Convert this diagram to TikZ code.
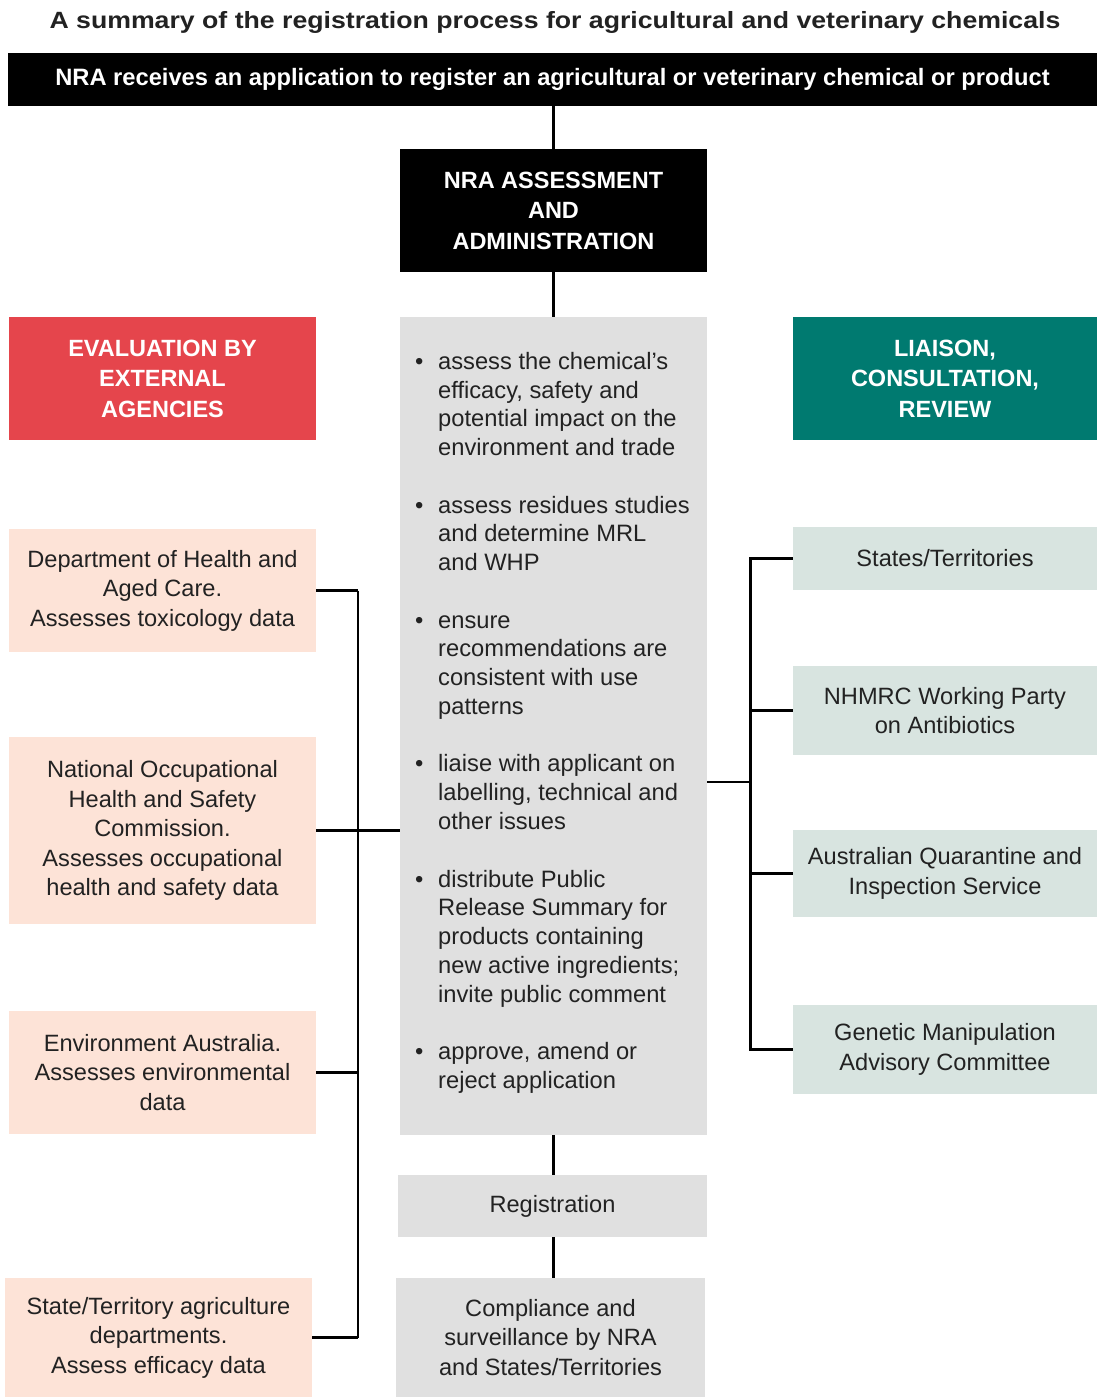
\documentclass[tikz,border=0pt]{standalone}
\usepackage{fontspec}
\setmainfont{Liberation Sans}
\usepackage{array}
\usepackage{graphicx}
\definecolor{redbox}{RGB}{229,69,76}
\definecolor{tealbox}{RGB}{0,122,112}
\definecolor{pinkbox}{RGB}{253,227,215}
\definecolor{greenbox}{RGB}{216,228,224}
\definecolor{graybox}{RGB}{224,224,224}
\definecolor{txt}{RGB}{34,34,34}
\begin{document}
\begin{tikzpicture}[x=1pt,y=-1pt,
  box/.style={inner sep=0pt, align=center, text=txt, font=\fontsize{23.6}{29.5}\selectfont},
  hdr/.style={inner sep=0pt, align=center, text=white, font=\bfseries\fontsize{23.5}{30.5}\selectfont},
  pink/.style={box, fill=pinkbox, minimum width=307pt},
  green/.style={box, fill=greenbox, minimum width=304pt},
  gray/.style={box, fill=graybox},
  conn/.style={line width=3pt},
  connl/.style={line width=2.2pt},
  connt/.style={line width=1.2pt}]
\useasboundingbox (0,0) rectangle (1097,1397);
\fill[white] (0,0) rectangle (1097,1397);

% title and top bar
\node[inner sep=0pt, text=txt, font=\bfseries\fontsize{23.5}{28}\selectfont] (title) at (555,22)
  {\scalebox{1.135}[1]{A summary of the registration process for agricultural and veterinary chemicals}};
\node[hdr, fill=black, minimum width=1089pt, minimum height=53pt, font=\bfseries\fontsize{23.7}{28}\selectfont] (top) at (552.5,79.5)
  {NRA receives an application to register an agricultural or veterinary chemical or product};

% central column
\node[hdr, fill=black, minimum width=307pt, minimum height=123pt] (assess) at (553.5,210.5)
  {NRA ASSESSMENT\\AND\\ADMINISTRATION};
\node[gray, minimum width=307pt, minimum height=818pt] (center) at (553.5,726) {};
\node[inner sep=0pt, anchor=north west, text=txt, font=\fontsize{23.7}{28.76}\selectfont] (bullets) at (415,349)
  {\begin{tabular}{@{}p{23pt}@{}l@{}}
   \textbullet & assess the chemical’s\\
   & efficacy, safety and\\
   & potential impact on the\\
   & environment and trade\\
   & \\
   \textbullet & assess residues studies\\
   & and determine MRL\\
   & and WHP\\
   & \\
   \textbullet & ensure\\
   & recommendations are\\
   & consistent with use\\
   & patterns\\
   & \\
   \textbullet & liaise with applicant on\\
   & labelling, technical and\\
   & other issues\\
   & \\
   \textbullet & distribute Public\\
   & Release Summary for\\
   & products containing\\
   & new active ingredients;\\
   & invite public comment\\
   & \\
   \textbullet & approve, amend or\\
   & reject application
   \end{tabular}};
\node[gray, minimum width=309pt, minimum height=62pt] (reg) at (552.5,1206) {Registration};
\node[gray, minimum width=309pt, minimum height=119pt] (comp) at (550.5,1337.5)
  {Compliance and\\surveillance by NRA\\and States/Territories};

% left column
\node[hdr, fill=redbox, minimum width=307pt, minimum height=123pt] (eval) at (162.5,378.5)
  {EVALUATION BY\\EXTERNAL\\AGENCIES};
\node[pink, minimum height=123pt] (d1) at (162.5,590.5)
  {Department of Health and\\Aged Care.\\Assesses toxicology data};
\node[pink, minimum height=187pt] (d2) at (162.5,830.5)
  {National Occupational\\Health and Safety\\Commission.\\Assesses occupational\\health and safety data};
\node[pink, minimum height=123pt] (d3) at (162.5,1072.5)
  {Environment Australia.\\Assesses environmental\\data};
\node[pink, minimum height=119pt] (d4) at (158.5,1337.5)
  {State/Territory agriculture\\departments.\\Assess efficacy data};

% right column
\node[hdr, fill=tealbox, minimum width=304pt, minimum height=123pt] (liaison) at (945,378.5)
  {LIAISON,\\CONSULTATION,\\REVIEW};
\node[green, minimum height=63pt] (s1) at (945,558.5) {States/Territories};
\node[green, minimum height=89pt] (s2) at (945,710.5) {NHMRC Working Party\\on Antibiotics};
\node[green, minimum height=87pt] (s3) at (945,873.5) {Australian Quarantine and\\Inspection Service};
\node[green, minimum height=89pt] (s4) at (945,1049.5) {Genetic Manipulation\\Advisory Committee};

% connectors
\coordinate (lb) at (358,0);
\coordinate (rb) at (750,0);
\coordinate (rj) at (750,782);
\draw[conn] (top.south -| center.north) -- (assess.north -| center.north);
\draw[conn] (assess.south) -- (center.north);
\draw[conn] (center.south -| 553,0) -- (reg.north -| 553,0);
\draw[conn] (reg.south -| 553,0) -- (comp.north -| 553,0);

\draw[conn] (d1.east) -- (d1.east -| lb);
\draw[connl] (d1.east -| lb) -- (d4.east -| lb);
\draw[conn] (d4.east -| lb) -- (d4.east);
\draw[conn] (d2.east) -- (d2.east -| center.west);
\draw[conn] (d3.east) -- (d3.east -| lb);

\draw[conn] (s1.west) -- (s1.west -| rb) -- (s4.west -| rb) -- (s4.west);
\draw[conn] (s2.west) -- (s2.west -| rb);
\draw[conn] (s3.west) -- (s3.west -| rb);
\draw[connt] (rj -| center.east) -- (rj);
\end{tikzpicture}
\end{document}
